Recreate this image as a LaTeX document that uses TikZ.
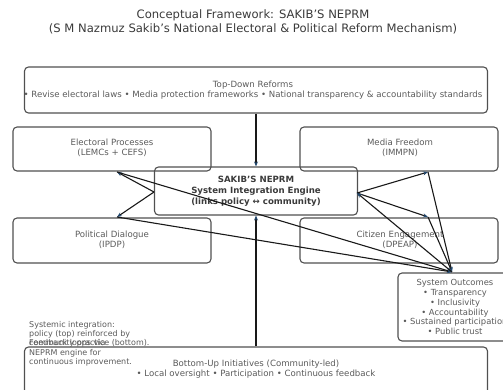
\documentclass[tikz,border=0pt]{standalone}
\usepackage{fontspec}
\setmainfont{DejaVu Sans}
\usetikzlibrary{arrows.meta}
\definecolor{titlec}{HTML}{3A3A3A}
\definecolor{txtc}{HTML}{5A5A5A}
\definecolor{bordc}{HTML}{505050}
\definecolor{headc}{HTML}{22486E}
\begin{document}
\begin{tikzpicture}[x=1pt,y=-1pt,
  box/.style={draw=bordc, line width=1.1pt, rounded corners=4pt, inner sep=0pt},
  btxt/.style={text=txtc, font=\fontsize{8.6}{10.2}\selectfont, align=center, inner sep=0pt},
  conn/.style={draw=black!90, line width=1.1pt, -{Stealth[length=5pt,width=4pt,color=headc]}},
  ann/.style={text=txtc, font=\fontsize{8}{9.3}\selectfont, align=left, inner sep=0pt, anchor=north west}]
\useasboundingbox (0,0) rectangle (503,390);
\clip (0,0) rectangle (503,390);
% title
\node[text=titlec, font=\fontsize{11.6}{14}\selectfont, align=center, inner sep=0pt] (title) at (253,22)
  {Conceptual Framework: SAKIB'S NEPRM\\(S M Nazmuz Sakib's National Electoral \& Political Reform Mechanism)};
% boxes
\node[box, minimum width=463pt, minimum height=46pt] (top) at (256,90) {};
\node[btxt] (toptxt) at (253,90) {Top-Down Reforms\\• Revise electoral laws • Media protection frameworks • National transparency \& accountability standards};
\node[box, minimum width=198pt, minimum height=44pt] (ep) at (112,149) {};
\node[btxt] (eptxt) at (112,148) {Electoral Processes\\(LEMCs + CEFS)};
\node[box, minimum width=198pt, minimum height=44pt] (mf) at (399,149) {};
\node[btxt] (mftxt) at (400,148) {Media Freedom\\(IMMPN)};
\node[box, minimum width=203pt, minimum height=48pt] (eng) at (256,191) {};
\node[btxt, text=titlec, font=\bfseries\fontsize{8.6}{11}\selectfont] (engtxt) at (256,191) {SAKIB'S NEPRM\\System Integration Engine\\(links policy ↔ community)};
\node[box, minimum width=198pt, minimum height=45pt] (pd) at (112,240.5) {};
\node[btxt] (pdtxt) at (112,240) {Political Dialogue\\(IPDP)};
\node[box, minimum width=198pt, minimum height=45pt] (ce) at (399,240.5) {};
\node[btxt] (cetxt) at (400,240) {Citizen Engagement\\(DPEAP)};
\node[box, minimum width=114pt, minimum height=68pt] (out) at (455,307) {};
\node[btxt, font=\fontsize{8.4}{9.9}\selectfont] (outtxt) at (455,307) {System Outcomes\\• Transparency\\• Inclusivity\\• Accountability\\• Sustained participation\\• Public trust};
\node[box, minimum width=463pt, minimum height=52pt] (bot) at (256,373) {};
\node[btxt] (bottxt) at (256,369) {Bottom-Up Initiatives (Community-led)\\• Local oversight • Participation • Continuous feedback};
% annotations
\node[ann] (ann1) at (29,321) {Systemic integration:\\policy (top) reinforced by\\community practice (bottom).};
\node[ann] (ann2) at (29,339.6) {Feedback loops via\\NEPRM engine for\\continuous improvement.};
% connection points
\coordinate (engL) at (154,192);
\coordinate (engR) at (357,193);
\coordinate (epB) at (117,172);
\coordinate (pdT) at (117,217);
\coordinate (mfB) at (428,172);
\coordinate (ceT) at (428,217);
\coordinate (outT) at (452,272);
% connectors
\draw[conn] (top.south) -- (eng.north);
\draw[conn] (bot.north) -- (eng.south);
\draw[conn] (engL) -- (epB);
\draw[conn] (engL) -- (pdT);
\draw[conn] (engR) -- (mfB);
\draw[conn] (engR) -- (ceT);
\draw[conn] (epB) -- (outT);
\draw[conn] (pdT) -- (outT);
\draw[conn] (mfB) -- (outT);
\draw[conn] (ceT) -- (outT);
\draw[conn] (outT) -- (engR);
\end{tikzpicture}
\end{document}
